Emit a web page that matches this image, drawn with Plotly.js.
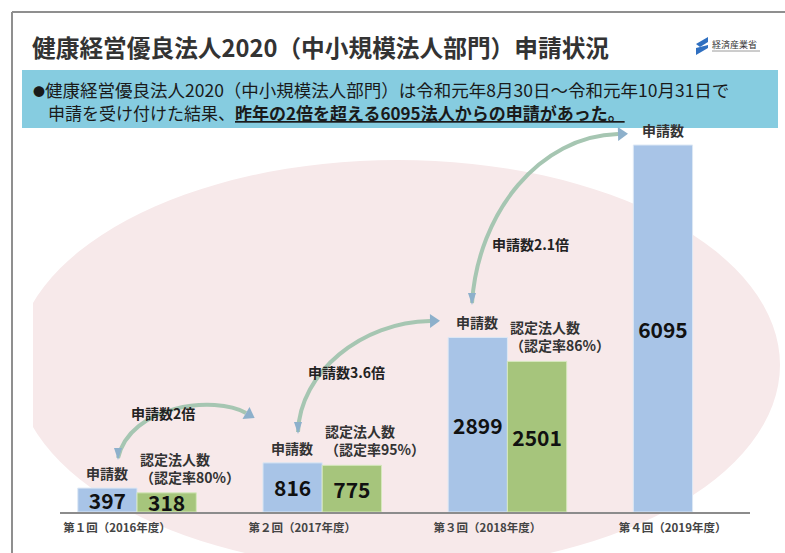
<!DOCTYPE html>
<html>
<head>
<meta charset="utf-8">
<script src="https://cdn.plot.ly/plotly-3.0.1.min.js"></script>
<style>html,body{margin:0;padding:0;background:#fff;}#chart{width:785px;height:553px;}</style>
</head>
<body>
<div id="chart"></div>
<script>
// ---- data ----
const categories = ['第１回（2016年度）', '第２回（2017年度）', '第３回（2018年度）', '第４回（2019年度）'];
const applications = [397, 816, 2899, 6095];
const certified = [318, 775, 2501, null];
const certRates = ['80%', '95%', '86%', null];
const growthLabels = ['申請数2倍', '申請数3.6倍', '申請数2.1倍'];
const appLabel = '申請数';
const certLabel = '認定法人数';
const titleText = '健康経営優良法人2020（中小規模法人部門）申請状況';
const bannerBullet = '●';
const bannerLine1 = '健康経営優良法人2020（中小規模法人部門）は令和元年8月30日～令和元年10月31日で';
const bannerLine2a = '申請を受け付けた結果、';
const bannerLine2b = '昨年の2倍を超える6095法人からの申請があった。';
const logoText = '経済産業省';

// ---- layout helpers (pixel -> paper) ----
const FONT = '"Noto Sans CJK JP", "Noto Sans", sans-serif';
const L = 60, R = 35, T = 140, B = 41, W = 785, H = 553;
const PW = W - L - R, PH = H - T - B;
const X = p => (p - L) / PW;
const Y = p => (H - B - p) / PH;

function pathStr(cmds) {
  return cmds.map(c => typeof c === 'string' ? c : (X(c[0]).toFixed(5) + ',' + Y(c[1]).toFixed(5))).join(' ');
}
function headPath(end, ctrl, len, half) {
  let dx = end[0] - ctrl[0], dy = end[1] - ctrl[1];
  const n = Math.hypot(dx, dy); dx /= n; dy /= n;
  const tip = [end[0] + dx * len, end[1] + dy * len];
  const a = [end[0] - dy * half, end[1] + dx * half];
  const b = [end[0] + dy * half, end[1] - dx * half];
  return pathStr(['M', a, 'L', tip, 'L', b, 'Z']);
}

// decorative curved arrows (pixel geometry)
const arrows = [
  {p0: [118, 458], c1: [130, 405], c2: [215, 395], p1: [246, 413], label: [163, 413]},
  {p0: [298, 432], c1: [300, 372], c2: [362, 322], p1: [430, 321], label: [346, 372]},
  {p0: [472, 303], c1: [478, 212], c2: [540, 136], p1: [618, 134], label: [530, 244]}
];

const shapes = [];
// pink ellipse background
shapes.push({type: 'circle', xref: 'paper', yref: 'paper', layer: 'below',
  x0: X(15), x1: X(780), y0: Y(570), y1: Y(160),
  fillcolor: '#f7e9ea', line: {width: 0}});
// white clip on the left
shapes.push({type: 'rect', xref: 'paper', yref: 'paper', layer: 'below',
  x0: X(0), x1: X(33), y0: Y(553), y1: Y(140),
  fillcolor: '#ffffff', line: {width: 0}});
// banner
shapes.push({type: 'rect', xref: 'paper', yref: 'paper', layer: 'below',
  x0: X(22), x1: X(778), y0: Y(128), y1: Y(70),
  fillcolor: '#86cce0', line: {width: 0}});
// frame
shapes.push({type: 'line', xref: 'paper', yref: 'paper', layer: 'above',
  x0: X(12), x1: X(785), y0: Y(12), y1: Y(12), line: {color: '#8f8f8f', width: 2}});
shapes.push({type: 'line', xref: 'paper', yref: 'paper', layer: 'above',
  x0: X(12), x1: X(12), y0: Y(12), y1: Y(553), line: {color: '#8f8f8f', width: 2}});
// logo
shapes.push({type: 'path', xref: 'paper', yref: 'paper', layer: 'above',
  path: pathStr(['M', [696, 44], 'L', [708, 37], 'L', [708, 42], 'L', [700, 47], 'Z']),
  fillcolor: '#2f6fc0', line: {width: 0}});
shapes.push({type: 'path', xref: 'paper', yref: 'paper', layer: 'above',
  path: pathStr(['M', [696, 48], 'L', [708, 45], 'L', [708, 48], 'L', [696, 55], 'Z']),
  fillcolor: '#2f6fc0', line: {width: 0}});
shapes.push({type: 'line', xref: 'paper', yref: 'paper', layer: 'above',
  x0: X(712), x1: X(760), y0: Y(51), y1: Y(51), line: {color: '#9a9a9a', width: 1}});
// arrows
arrows.forEach(a => {
  shapes.push({type: 'path', xref: 'paper', yref: 'paper', layer: 'above',
    path: pathStr(['M', a.p0, 'C', a.c1, a.c2, a.p1]),
    line: {color: '#a6c6b2', width: 4}});
  shapes.push({type: 'path', xref: 'paper', yref: 'paper', layer: 'above',
    path: headPath(a.p1, a.c2, 10, 7), fillcolor: '#8db0cb', line: {width: 0}});
  shapes.push({type: 'path', xref: 'paper', yref: 'paper', layer: 'above',
    path: pathStr(['M', [a.p0[0] - 4, a.p0[1] - 10], 'L', [a.p0[0], a.p0[1] + 2], 'L', [a.p0[0] + 4, a.p0[1] - 10], 'Z']),
    fillcolor: '#8db0cb', line: {width: 0}});
});

const annotations = [];
annotations.push({xref: 'paper', yref: 'paper', x: X(30), y: Y(47), xanchor: 'left', yanchor: 'middle',
  text: '<b>' + titleText + '</b>', showarrow: false, font: {family: FONT, size: 23.7, color: '#333333'}});
annotations.push({xref: 'paper', yref: 'paper', x: X(710), y: Y(44), xanchor: 'left', yanchor: 'middle',
  text: logoText, showarrow: false, font: {family: FONT, size: 9, color: '#333333'}});
annotations.push({xref: 'paper', yref: 'paper', x: X(31), y: Y(90), xanchor: 'left', yanchor: 'middle',
  text: '<span style="font-size:12px">' + bannerBullet + '</span>' + bannerLine1, showarrow: false,
  font: {family: FONT, size: 17.5, color: '#1a1a1a'}});
annotations.push({xref: 'paper', yref: 'paper', x: X(46), y: Y(112), xanchor: 'left', yanchor: 'middle',
  text: bannerLine2a + '<b><u>' + bannerLine2b + '</u></b>', showarrow: false, font: {family: FONT, size: 17, color: '#1a1a1a'}});
arrows.forEach((a, i) => {
  annotations.push({xref: 'paper', yref: 'paper', x: X(a.label[0]), y: Y(a.label[1]), xanchor: 'center', yanchor: 'middle',
    text: '<b>' + growthLabels[i] + '</b>', showarrow: false, font: {family: FONT, size: 14, color: '#222222'}});
});
categories.forEach((c, i) => {
  annotations.push({xref: 'x', yref: 'y', x: c, y: applications[i], xshift: -30, yshift: 3,
    xanchor: 'center', yanchor: 'bottom', text: '<b>' + appLabel + '</b>', showarrow: false,
    font: {family: FONT, size: 14, color: '#333333'}});
  if (certified[i] !== null) {
    annotations.push({xref: 'x', yref: 'y', x: c, y: certified[i], xshift: 1, yshift: 4,
      xanchor: 'left', yanchor: 'bottom', align: 'left',
      text: '<b>' + certLabel + '<br>（認定率' + certRates[i] + '）</b>', showarrow: false,
      font: {family: FONT, size: 14, color: '#333333'}});
  }
});

const traces = [
  {type: 'bar', x: categories, y: applications, name: appLabel,
   text: applications.map(v => String(v)), textposition: 'inside', insidetextanchor: 'middle',
   constraintext: 'none', cliponaxis: false,
   textfont: {family: FONT, size: 21, color: '#111111', weight: 'bold'},
   marker: {color: '#a8c4e7', line: {color: '#dde8f5', width: 1}}, hoverinfo: 'skip'},
  {type: 'bar', x: categories, y: certified, name: certLabel,
   text: certified.map(v => v === null ? '' : String(v)), textposition: 'inside', insidetextanchor: 'middle',
   constraintext: 'none', cliponaxis: false,
   textfont: {family: FONT, size: 21, color: '#111111', weight: 'bold'},
   marker: {color: '#a6c57c', line: {color: '#d6e8bd', width: 1}}, hoverinfo: 'skip'}
];

const layout = {
  width: W, height: H,
  margin: {l: L, r: R, t: T, b: B, pad: 0},
  paper_bgcolor: '#ffffff', plot_bgcolor: 'rgba(0,0,0,0)',
  showlegend: false,
  barmode: 'group', bargap: 0.36, bargroupgap: 0,
  font: {family: FONT},
  xaxis: {type: 'category', range: [-0.416, 3.31], showline: true, linecolor: '#8c8c8c', linewidth: 2,
    ticks: '', showgrid: false, zeroline: false, ticklabelshift: -20, ticklabelstandoff: 4,
    tickfont: {family: FONT, size: 11.5, color: '#444444', weight: 'bold'}},
  yaxis: {range: [0, 6178], visible: false, showgrid: false, zeroline: false},
  shapes: shapes,
  annotations: annotations
};

Plotly.newPlot('chart', traces, layout, {staticPlot: true, displayModeBar: false});
</script>
</body>
</html>
